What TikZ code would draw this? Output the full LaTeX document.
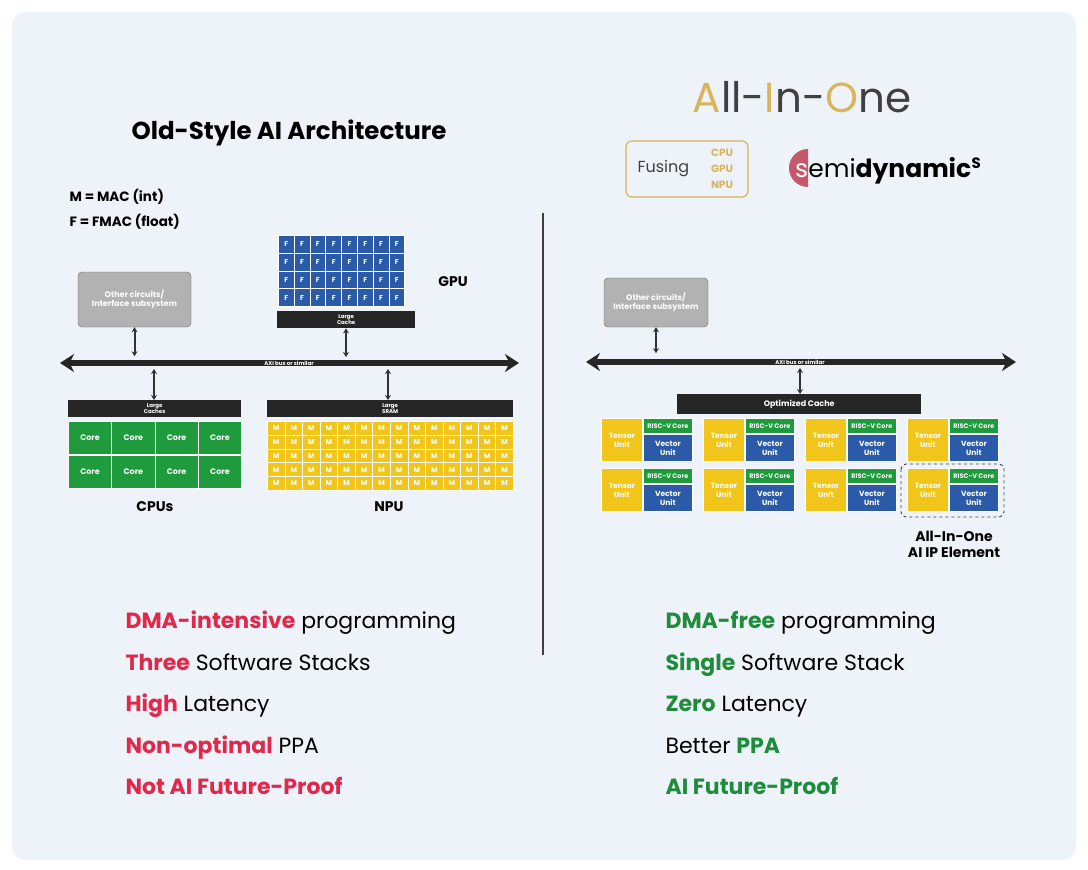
\documentclass[tikz,border=0pt]{standalone}
\usepackage{fontspec}
\setmainfont{Poppins}
\usetikzlibrary{arrows.meta,positioning}
\definecolor{bgpanel}{HTML}{EEF3F9}
\definecolor{hotred}{HTML}{E0284B}
\definecolor{okgreen}{HTML}{1E8C3A}
\definecolor{coregreen}{HTML}{1F9A3C}
\definecolor{unitblue}{HTML}{2B5BA8}
\definecolor{unityellow}{HTML}{F2C51A}
\definecolor{gold}{HTML}{D9B45A}
\definecolor{logored}{HTML}{C5586A}
\tikzset{
  cell/.style={draw=white,line width=.8pt,anchor=north west,inner sep=0pt,text=white,font=\fontsize{7}{7}\bfseries\selectfont},
  bar/.style={fill=black!85,anchor=north west,inner sep=0pt,text=white,align=center,font=\fontsize{5.5}{5.5}\bfseries\selectfont},
  grayblock/.style={fill=gray!60,draw=black!60,rounded corners=4pt,text=white,align=center,font=\fontsize{8}{9}\bfseries\selectfont},
  link/.style={{Stealth[length=5pt,width=6pt]}-{Stealth[length=5pt,width=6pt]},line width=2pt,black!80},
  busline/.style={{Stealth[length=14pt,width=18pt]}-{Stealth[length=14pt,width=18pt]},line width=6pt,black!85},
  caption/.style={font=\fontsize{14}{16}\bfseries\selectfont,align=center},
  claim/.style={anchor=base west,font=\fontsize{22}{22}\selectfont}
}
\begin{document}
\begin{tikzpicture}[x=1pt,y=-1pt]
\useasboundingbox (0,0) rectangle (1088,870);
\fill[bgpanel,rounded corners=14pt] (12,12) rectangle (1076,860);
% ---- left: old style
\node[font=\fontsize{24.5}{24.5}\bfseries\selectfont] (oldtitle) at (289,133) {Old-Style AI Architecture};
\node[anchor=west,font=\fontsize{13.5}{13.5}\bfseries\selectfont] (keym) at (66,197) {M = MAC (int)};
\node[anchor=west,font=\fontsize{13.5}{13.5}\bfseries\selectfont] (keyf) at (66,222) {F = FMAC (float)};
% GPU
\foreach \r in {0,...,3}
  \foreach \c in {0,...,7}
    \node[cell,fill=unitblue,minimum width=15.8pt,minimum height=17.8pt] at (278+\c*15.8,235+\r*17.8) {F};
\node[bar,minimum width=138pt,minimum height=17pt] (gpucache) at (277,311) {Large\\Cache};
\node[caption] (gpulabel) at (453,282) {GPU};
% other circuits
\node[grayblock,minimum width=113pt,minimum height=55pt] (other) at (134.5,299.5) {Other circuits/\\Interface subsystem};
% bus
\coordinate (busL) at (60,363);
\coordinate (busR) at (519,363);
\draw[busline] (busL) -- (busR);
\node[text=white,font=\fontsize{5.5}{5.5}\bfseries\selectfont] (buslbl) at (289,363) {AXI bus or similar};
% CPUs
\node[bar,minimum width=173pt,minimum height=17pt] (cpucache) at (68,400) {Large\\Caches};
\foreach \r in {0,1}
  \foreach \c in {0,...,3}
    \node[cell,fill=coregreen,minimum width=43.3pt,minimum height=33pt,font=\fontsize{8}{8}\bfseries\selectfont] at (68+\c*43.3,421+\r*33.5) {Core};
\node[caption] (cpulabel) at (155,507) {CPUs};
% NPU
\node[bar,minimum width=246pt,minimum height=17pt] (sram) at (267,400) {Large\\SRAM};
\foreach \r in {0,...,4}
  \foreach \c in {0,...,13}
    \node[cell,fill=unityellow,minimum width=17.57pt,minimum height=13.8pt] at (267+\c*17.57,421+\r*13.8) {M};
\node[caption] (npulabel) at (389,507) {NPU};
\coordinate (gpuend) at (346,357);
\coordinate (cpuend) at (154,369);
\coordinate (npuend) at (388,369);
\draw[link] (other.south) -- ++(0,29);
\draw[link] (gpucache.south -| gpuend) -- (gpuend);
\draw[link] (cpuend) -- (cpucache.north -| cpuend);
\draw[link] (npuend) -- (sram.north -| npuend);
% divider
\draw[black!75,line width=1.2pt] (543,213) -- (543,655);
% ---- right: all in one
\node[font=\fontsize{42}{42}\selectfont,text=black!75] (aio) at (802,97) {\textcolor{gold}{A}ll-\textcolor{gold}{I}n-\textcolor{gold}{O}ne};
\node[draw=gold,line width=1.2pt,rounded corners=6pt,minimum width=122pt,minimum height=56pt] (fusebox) at (687,169) {};
\node[anchor=west,font=\fontsize{16}{16}\selectfont,text=black!75] (fusing) at (634,169) {Fusing};
\node[align=center,text=gold,font=\fontsize{10.5}{16}\bfseries\selectfont] (fusewhat) at (722,169) {CPU\\GPU\\NPU};
\fill[logored] (808,187) arc (90:270:19);
\node[anchor=base west,inner sep=0pt,font=\fontsize{25}{25}\selectfont] (logo) at (795,177) {\textcolor{white}{s}emi\textbf{dynamic}};
\node[anchor=base west,inner sep=0pt,font=\fontsize{15}{15}\bfseries\selectfont] (logos) at (logo.base east) [yshift=9pt] {S};
\node[grayblock,minimum width=104pt,minimum height=49pt] (other2) at (656,302.5) {Other circuits/\\Interface subsystem};
\coordinate (bus2L) at (586,362);
\coordinate (bus2R) at (1016,362);
\draw[busline] (bus2L) -- (bus2R);
\node[text=white,font=\fontsize{5.5}{5.5}\bfseries\selectfont] (bus2lbl) at (800,362) {AXI bus or similar};
\node[bar,minimum width=244pt,minimum height=20pt,font=\fontsize{8}{8}\bfseries\selectfont] (optcache) at (677,394) {Optimized Cache};
\coordinate (cacheend) at (800,368);
\draw[link] (other2.south) -- ++(0,26);
\draw[link] (cacheend) -- (optcache.north -| cacheend);
\foreach \r in {0,1}
  \foreach \c in {0,...,3} {
    \node[cell,fill=unityellow,minimum width=41pt,minimum height=43pt,align=center,font=\fontsize{7.5}{9}\bfseries\selectfont]
      (tu\r\c) at (601+\c*102,418+\r*50) {Tensor\\Unit};
    \node[cell,fill=coregreen,minimum width=49pt,minimum height=15pt,font=\fontsize{6.5}{6.5}\bfseries\selectfont]
      (rv\r\c) at (643+\c*102,418+\r*50) {RISC-V Core};
    \node[cell,fill=unitblue,minimum width=49pt,minimum height=27pt,align=center,font=\fontsize{7.5}{9}\bfseries\selectfont]
      (vu\r\c) at (643+\c*102,434+\r*50) {Vector\\Unit};
  }
\draw[dashed,black!75,line width=.9pt,rounded corners=5pt] (901,464) rectangle (1004,517);
\node[caption] (aiolabel) at (954,544) {All-In-One\\AI IP Element};
% claims
\foreach \t [count=\i] in {{\textcolor{hotred}{\textbf{DMA-intensive}} programming},
  {\textcolor{hotred}{\textbf{Three}} Software Stacks},{\textcolor{hotred}{\textbf{High}} Latency},
  {\textcolor{hotred}{\textbf{Non-optimal}} PPA},{\textcolor{hotred}{\textbf{Not AI Future-Proof}}}}
  \node[claim] (bad\i) at (122,587+\i*41.5) {\t};
\foreach \t [count=\i] in {{\textcolor{okgreen}{\textbf{DMA-free}} programming},
  {\textcolor{okgreen}{\textbf{Single}} Software Stack},{\textcolor{okgreen}{\textbf{Zero}} Latency},
  {Better \textcolor{okgreen}{\textbf{PPA}}},{\textcolor{okgreen}{\textbf{AI Future-Proof}}}}
  \node[claim] (good\i) at (662,587+\i*41.5) {\t};
\end{tikzpicture}
\end{document}
